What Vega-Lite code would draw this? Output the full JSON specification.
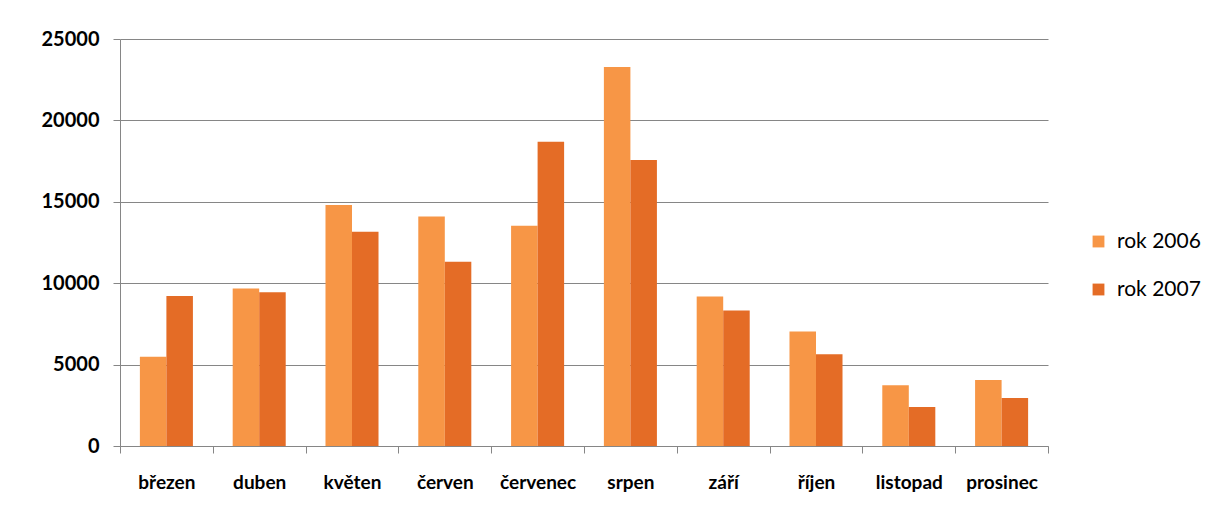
{
  "$schema": "https://vega.github.io/schema/vega-lite/v6.json",
  "width": 928,
  "height": 407,
  "autosize": {"type": "none"},
  "padding": {"left": 120, "top": 39, "right": 169, "bottom": 70},
  "background": "white",
  "config": {"view": {"stroke": null}, "font": "Lato"},
  "data": {
    "values": [
      {"mesic": "březen", "rok": "rok 2006", "pocet": 5480},
      {"mesic": "březen", "rok": "rok 2007", "pocet": 9210},
      {"mesic": "duben", "rok": "rok 2006", "pocet": 9670},
      {"mesic": "duben", "rok": "rok 2007", "pocet": 9440},
      {"mesic": "květen", "rok": "rok 2006", "pocet": 14800},
      {"mesic": "květen", "rok": "rok 2007", "pocet": 13160},
      {"mesic": "červen", "rok": "rok 2006", "pocet": 14090},
      {"mesic": "červen", "rok": "rok 2007", "pocet": 11320},
      {"mesic": "červenec", "rok": "rok 2006", "pocet": 13530},
      {"mesic": "červenec", "rok": "rok 2007", "pocet": 18690},
      {"mesic": "srpen", "rok": "rok 2006", "pocet": 23280},
      {"mesic": "srpen", "rok": "rok 2007", "pocet": 17570},
      {"mesic": "září", "rok": "rok 2006", "pocet": 9190},
      {"mesic": "září", "rok": "rok 2007", "pocet": 8330},
      {"mesic": "říjen", "rok": "rok 2006", "pocet": 7040},
      {"mesic": "říjen", "rok": "rok 2007", "pocet": 5630},
      {"mesic": "listopad", "rok": "rok 2006", "pocet": 3730},
      {"mesic": "listopad", "rok": "rok 2007", "pocet": 2400},
      {"mesic": "prosinec", "rok": "rok 2006", "pocet": 4050},
      {"mesic": "prosinec", "rok": "rok 2007", "pocet": 2950}
    ]
  },
  "mark": {"type": "bar"},
  "encoding": {
    "x": {
      "field": "mesic",
      "type": "nominal",
      "sort": null,
      "scale": {"paddingInner": 0, "paddingOuter": 0},
      "axis": {
        "title": null,
        "labelAngle": 0,
        "tickBand": "extent",
        "tickSize": 7,
        "tickColor": "#868686",
        "domainColor": "#868686",
        "labelFont": "Lato",
        "labelFontSize": 19,
        "labelFontWeight": "bold",
        "labelColor": "#000000",
        "labelPadding": 20
      }
    },
    "xOffset": {
      "field": "rok",
      "type": "nominal",
      "scale": {"paddingOuter": 0.75, "paddingInner": 0}
    },
    "y": {
      "field": "pocet",
      "type": "quantitative",
      "scale": {"domain": [0, 25000]},
      "axis": {
        "title": null,
        "values": [0, 5000, 10000, 15000, 20000, 25000],
        "format": "d",
        "gridColor": "#868686",
        "tickColor": "#868686",
        "domainColor": "#868686",
        "tickSize": 7,
        "labelFont": "Lato",
        "labelFontSize": 20,
        "labelFontWeight": "bold",
        "labelPadding": 14,
        "labelColor": "#000000"
      }
    },
    "color": {
      "field": "rok",
      "type": "nominal",
      "scale": {"range": ["#F79646", "#E46C26"]},
      "legend": {
        "title": null,
        "orient": "none",
        "legendX": 968,
        "legendY": 192,
        "labelFont": "Lato",
        "labelFontSize": 21,
        "labelColor": "#000000",
        "labelOffset": 8,
        "symbolType": "square",
        "symbolSize": 140,
        "rowPadding": 26
      }
    }
  }
}
